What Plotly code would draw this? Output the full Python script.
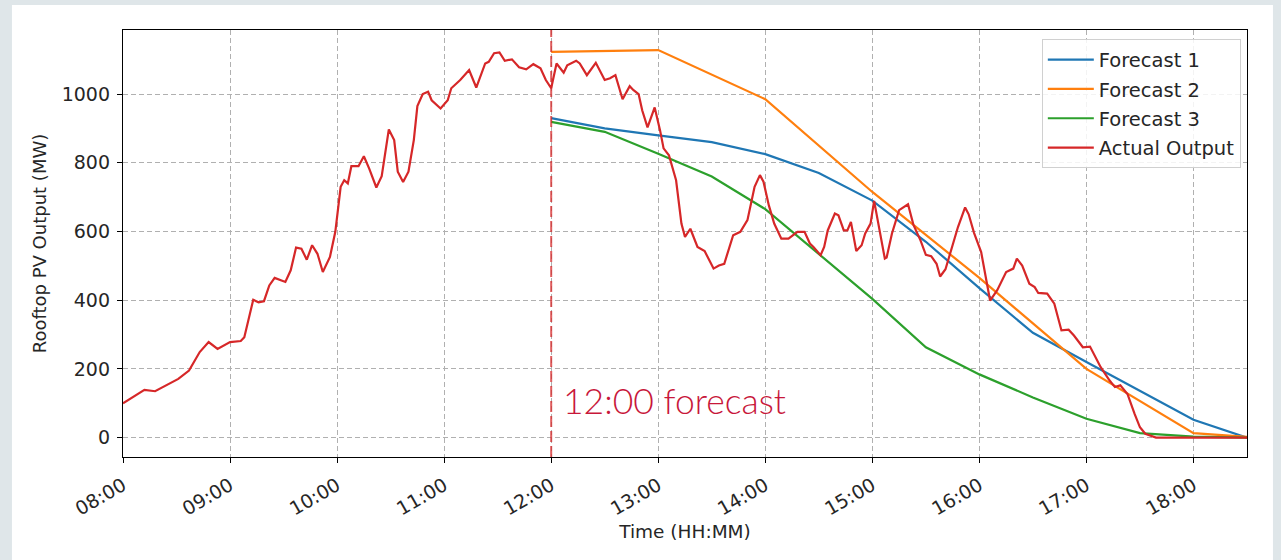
import plotly.graph_objects as go

DAY = "2021-01-15 "

# Actual rooftop PV output (MW)
actual_times = [
    "08:00", "08:07", "08:12", "08:18", "08:24", "08:31", "08:37", "08:43", "08:48", "08:53",
    "09:00", "09:06", "09:08", "09:13", "09:16", "09:19", "09:22", "09:25", "09:31", "09:34",
    "09:37", "09:40", "09:43", "09:46", "09:49", "09:52", "09:56", "09:59", "10:02", "10:04",
    "10:06", "10:08", "10:12", "10:15", "10:18", "10:22", "10:25", "10:29", "10:32", "10:34",
    "10:37", "10:40", "10:43", "10:45", "10:48", "10:51", "10:53", "10:58", "11:02", "11:04",
    "11:09", "11:14", "11:18", "11:23", "11:25", "11:28", "11:31", "11:34", "11:38", "11:42",
    "11:46", "11:50", "11:54", "11:57", "12:00", "12:03", "12:07", "12:09", "12:14", "12:16",
    "12:20", "12:25", "12:30", "12:33", "12:36", "12:40", "12:44", "12:46", "12:49", "12:51",
    "12:54", "12:58", "13:01", "13:03", "13:06", "13:10", "13:13", "13:15", "13:18", "13:22",
    "13:26", "13:31", "13:34", "13:37", "13:42", "13:46", "13:50", "13:54", "13:57", "13:59",
    "14:02", "14:05", "14:09", "14:13", "14:18", "14:22", "14:25", "14:27", "14:31", "14:33",
    "14:35", "14:39", "14:41", "14:44", "14:46", "14:48", "14:51", "14:54", "14:56", "14:59",
    "15:01", "15:02", "15:07", "15:08", "15:11", "15:15", "15:20", "15:23", "15:27", "15:30",
    "15:33", "15:36", "15:38", "15:41", "15:44", "15:46", "15:48", "15:52", "15:54", "15:57",
    "16:01", "16:04", "16:06", "16:10", "16:15", "16:19", "16:21", "16:24", "16:28", "16:31",
    "16:33", "16:38", "16:42", "16:46", "16:50", "16:53", "16:58", "17:02", "17:04", "17:08",
    "17:13", "17:16", "17:19", "17:23", "17:27", "17:30", "17:33", "17:39", "18:30",
]
actual_mw = [
    100, 122, 139, 135, 152, 171, 195, 249, 278, 258,
    278, 281, 292, 401, 394, 397, 443, 465, 453, 487,
    553, 550, 518, 560, 535, 482, 526, 599, 730, 749,
    740, 790, 790, 819, 783, 728, 761, 897, 866, 774,
    744, 774, 866, 965, 1000, 1007, 982, 958, 982, 1017,
    1041, 1070, 1019, 1089, 1094, 1119, 1121, 1097, 1101, 1078,
    1072, 1087, 1075, 1041, 1017, 1089, 1062, 1084, 1097, 1089,
    1055, 1091, 1041, 1046, 1055, 985, 1023, 1012, 1000, 953,
    903, 961, 895, 842, 822, 749, 623, 584, 608, 555,
    543, 492, 501, 506, 589, 599, 633, 730, 764, 745,
    676, 623, 579, 579, 599, 599, 565, 555, 531, 555,
    603, 652, 647, 603, 603, 628, 543, 560, 594, 623,
    689, 662, 521, 524, 594, 662, 679, 620, 574, 532,
    528, 506, 469, 490, 540, 574, 613, 670, 650, 596,
    540, 455, 399, 429, 482, 492, 521, 501, 448, 438,
    421, 419, 390, 312, 314, 297, 263, 265, 244, 205,
    166, 147, 152, 127, 69, 30, 11, 0, 0,
]

# Forecasts issued at 12:00
f1_times = ["12:00", "12:30", "13:00", "13:30", "14:00", "14:30", "15:00", "15:30",
            "16:00", "16:30", "17:00", "17:30", "18:00", "18:30"]
f1_mw = [930, 900, 880, 860, 825, 770, 690, 570, 435, 305, 220, 135, 52, 0]

f2_times = ["12:00", "13:00", "14:00", "15:00", "16:00", "17:00", "18:00", "18:30"]
f2_mw = [1123, 1128, 985, 715, 465, 200, 13, 2]

f3_times = ["12:00", "12:30", "13:00", "13:30", "14:00", "14:30", "15:00", "15:30",
            "16:00", "16:30", "17:00", "17:30", "18:00", "18:30"]
f3_mw = [919, 890, 826, 760, 665, 535, 404, 263, 184, 117, 55, 13, 3, 0]

tick_labels = ["08:00", "09:00", "10:00", "11:00", "12:00", "13:00",
               "14:00", "15:00", "16:00", "17:00", "18:00"]
forecast_time = "12:00"


def stamp(ts):
    return [DAY + t for t in ts]


fig = go.Figure()
series = [
    ("Forecast 1", f1_times, f1_mw, "#1f77b4"),
    ("Forecast 2", f2_times, f2_mw, "#ff7f0e"),
    ("Forecast 3", f3_times, f3_mw, "#2ca02c"),
    ("Actual Output", actual_times, actual_mw, "#d62728"),
]
for name, ts, ys, col in series:
    fig.add_trace(go.Scatter(
        x=stamp(ts), y=ys, mode="lines", name=name, legendgroup=name,
        line=dict(color=col, width=2.2),
    ))

# forecast issue time marker
fig.add_shape(type="line", xref="x", yref="paper",
              x0=DAY + forecast_time, x1=DAY + forecast_time, y0=0, y1=1,
              line=dict(color="rgba(214,39,40,0.75)", width=2, dash="11px,4px"),
              layer="above")
fig.add_annotation(x=DAY + forecast_time, y=108, xref="x", yref="y",
                   text="12:00 forecast", showarrow=False,
                   xanchor="left", yanchor="middle", xshift=10,
                   font=dict(family="Lato", size=35.5, color="#c8173a", weight=300))

# white panel around the chart
fig.add_shape(type="rect", xref="paper", yref="paper",
              x0=-0.0988, x1=1.0231, y0=-0.2412, y1=1.0585,
              fillcolor="white", line=dict(width=0), layer="below")

txt = "#262626"
tickfont = dict(family="DejaVu Sans", size=19, color=txt)
fig.update_xaxes(
    type="date",
    range=[DAY + "08:00", DAY + "18:30"],
    tickvals=stamp(tick_labels), ticktext=tick_labels, tickangle=-30,
    ticks="outside", ticklen=5, tickcolor="black", ticklabelstandoff=4,
    showline=True, mirror=True, linecolor="black", linewidth=1.3,
    showgrid=True, gridcolor="#b0b0b0", griddash="5px,3px", gridwidth=1,
    tickfont=tickfont,
    title=dict(text="Time (HH:MM)", font=dict(family="DejaVu Sans", size=18.5, color=txt),
               standoff=6),
)
fig.update_yaxes(
    range=[-56.5, 1186.5], tick0=0, dtick=200,
    ticks="outside", ticklen=5, tickcolor="black", ticklabelstandoff=3,
    showline=True, mirror=True, linecolor="black", linewidth=1.3,
    showgrid=True, gridcolor="#b0b0b0", griddash="5px,3px", gridwidth=1,
    zeroline=False, tickfont=tickfont,
    title=dict(text="Rooftop PV Output (MW)", font=dict(family="DejaVu Sans", size=18, color=txt),
               standoff=10),
)
fig.update_layout(
    width=1281, height=560,
    margin=dict(l=123, r=34, t=30, b=103),
    paper_bgcolor="#dfe6e9", plot_bgcolor="white",
    showlegend=True,
    legend=dict(x=0.9945, y=0.978, xanchor="right", yanchor="top",
                bgcolor="rgba(255,255,255,0.85)", bordercolor="#d0d0d0", borderwidth=1,
                font=dict(family="DejaVu Sans", size=19.5, color=txt),
                tracegroupgap=1, itemwidth=46),
)

fig.write_html("out.html")
